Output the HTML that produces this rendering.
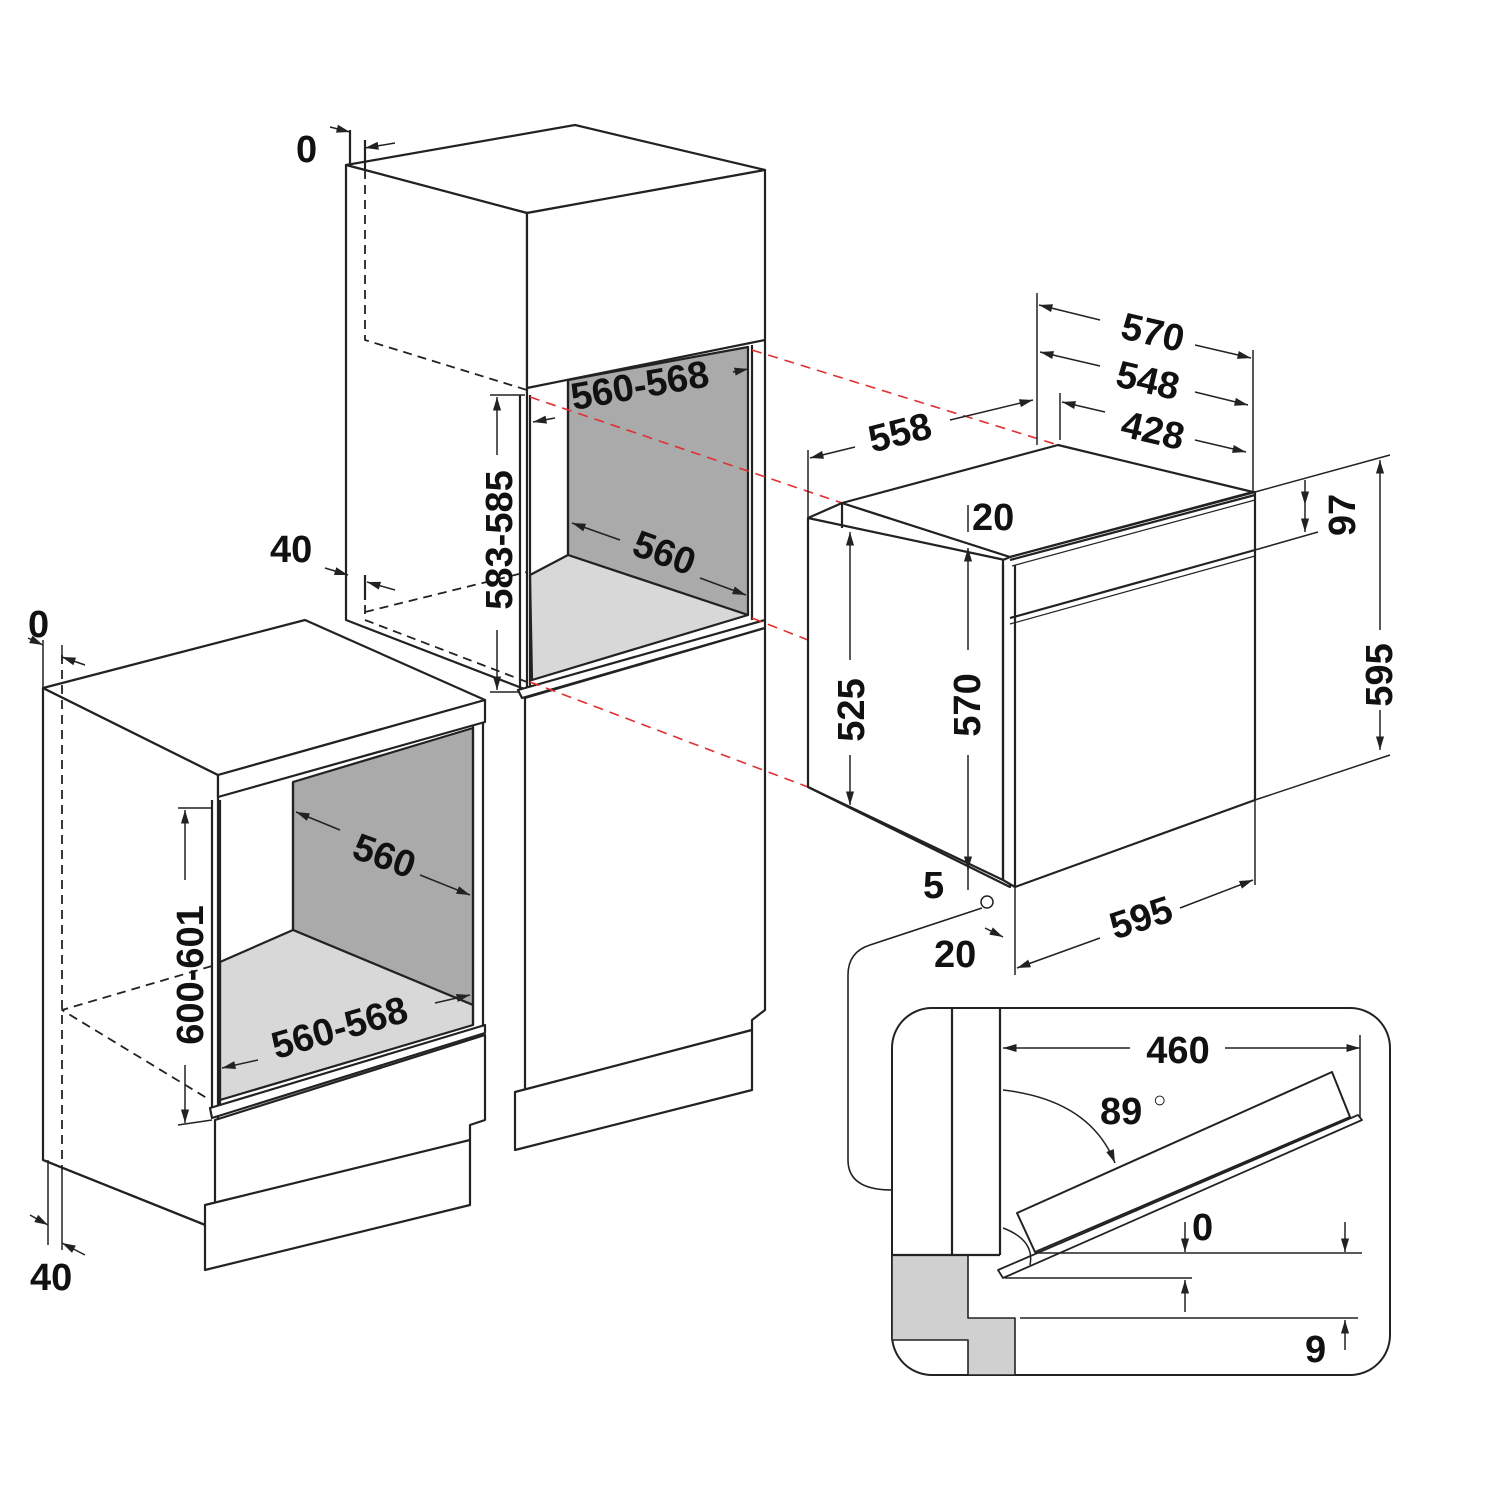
<!DOCTYPE html>
<html><head><meta charset="utf-8"><style>
html,body{margin:0;padding:0;background:#fff}
svg{display:block}
text{font-family:"Liberation Sans",sans-serif;font-weight:bold;fill:#111}
</style></head><body>
<svg width="1500" height="1500" viewBox="0 0 1500 1500" xmlns="http://www.w3.org/2000/svg">
<defs>
<marker id="a" viewBox="0 0 10 10" refX="10" refY="5" markerWidth="9" markerHeight="9" orient="auto-start-reverse"><path d="M0,2 L10,5 L0,8 z" fill="#222"/></marker>
</defs>
<g stroke="#222" stroke-width="2.2" fill="none" stroke-linejoin="round">
<!-- TALL CABINET -->
<polygon points="346,165 575,125 765,170 527,213" fill="#fff"/>
<polygon points="346,165 527,213 527,690 346,620" fill="#fff"/>
<polygon points="527,213 765,170 765,340 527,388" fill="#fff"/>
<polygon points="568,380 748,347 748,615 568,555" fill="#aaa"/>
<polygon points="530,575 568,555 748,615 532,680" fill="#d8d8d8"/>
<line x1="568" y1="380" x2="568" y2="555"/>
<line x1="520" y1="395" x2="520" y2="690"/>
<line x1="530" y1="395" x2="530" y2="690"/>
<line x1="752" y1="345" x2="752" y2="620"/>
<line x1="765" y1="340" x2="765" y2="620"/>
<polygon points="518,690 765,620 765,628 522,698" fill="#fff"/>
<polygon points="525,698 765,628 765,1010 752,1020 752,1030 525,1090" fill="#fff"/>
<polygon points="515,1092 752,1030 752,1090 515,1150" fill="#fff"/>
<g stroke-dasharray="9,6" stroke-width="1.8">
<polyline points="365,170 365,340 527,390"/>
<polyline points="365,612 527,572"/>
<polyline points="365,575 365,620 527,682"/>
</g>
<!-- tall dims -->
<line x1="350" y1="130" x2="350" y2="165"/><line x1="365" y1="140" x2="365" y2="170"/>
<line x1="330" y1="127" x2="350" y2="132" marker-end="url(#a)" stroke-width="1.5"/>
<line x1="395" y1="143" x2="365" y2="148" marker-end="url(#a)" stroke-width="1.5"/>
<line x1="325" y1="568" x2="348" y2="575" marker-end="url(#a)" stroke-width="1.5"/>
<line x1="395" y1="590" x2="367" y2="582" marker-end="url(#a)" stroke-width="1.5"/>
<line x1="365" y1="575" x2="365" y2="600"/>
<line x1="490" y1="395" x2="525" y2="395" stroke-width="1.5"/>
<line x1="490" y1="692" x2="520" y2="692" stroke-width="1.5"/>
<line x1="497" y1="455" x2="497" y2="397" marker-end="url(#a)" stroke-width="1.5"/>
<line x1="497" y1="630" x2="497" y2="690" marker-end="url(#a)" stroke-width="1.5"/>
<line x1="555" y1="418" x2="533" y2="422" marker-end="url(#a)" stroke-width="1.5"/>
<line x1="733" y1="372" x2="748" y2="369" marker-end="url(#a)" stroke-width="1.5"/>
<line x1="620" y1="540" x2="572" y2="523" marker-end="url(#a)" stroke-width="1.5"/>
<line x1="700" y1="578" x2="746" y2="595" marker-end="url(#a)" stroke-width="1.5"/>
<!-- RED lines -->
<g stroke="#e03030" stroke-dasharray="10,7" stroke-width="1.6">
<line x1="752" y1="350" x2="1058" y2="445"/>
<line x1="530" y1="397" x2="842" y2="503"/>
<line x1="752" y1="618" x2="808" y2="640"/>
<line x1="530" y1="682" x2="808" y2="787"/>
</g>
<!-- LEFT CABINET -->
<polygon points="43,688 218,775 218,1230 43,1160" fill="#fff"/>
<polygon points="43,688 305,620 485,700 218,775" fill="#fff"/>
<polygon points="218,775 485,700 485,722 218,797" fill="#fff"/>
<polygon points="293,782 473,728 473,1005 293,930" fill="#aaa"/>
<polygon points="220,962 293,930 473,1005 473,1025 220,1100" fill="#d8d8d8"/>
<line x1="293" y1="782" x2="293" y2="930"/>
<line x1="212" y1="800" x2="212" y2="1110"/>
<line x1="220" y1="800" x2="220" y2="1110"/>
<line x1="473" y1="726" x2="473" y2="1025"/>
<line x1="483" y1="722" x2="483" y2="1025"/>
<polygon points="210,1108 485,1025 485,1033 212,1118" fill="#fff"/>
<polygon points="215,1120 485,1035 485,1120 470,1125 470,1140 215,1210" fill="#fff"/>
<polygon points="205,1205 470,1140 470,1205 205,1270" fill="#fff"/>
<polyline points="43,1160 205,1225"/>
<g stroke-dasharray="9,6" stroke-width="1.8">
<line x1="62" y1="655" x2="62" y2="1170"/>
<polyline points="212,966 62,1010 210,1100"/>
</g>
<line x1="43" y1="640" x2="43" y2="688" stroke-width="1.5"/>
<line x1="62" y1="645" x2="62" y2="660" stroke-width="1.5"/>
<line x1="28" y1="638" x2="43" y2="645" marker-end="url(#a)" stroke-width="1.5"/>
<line x1="85" y1="665" x2="62" y2="657" marker-end="url(#a)" stroke-width="1.5"/>
<line x1="48" y1="1160" x2="48" y2="1245" stroke-width="1.5"/>
<line x1="62" y1="1170" x2="62" y2="1250" stroke-width="1.5"/>
<line x1="30" y1="1215" x2="48" y2="1225" marker-end="url(#a)" stroke-width="1.5"/>
<line x1="85" y1="1255" x2="62" y2="1243" marker-end="url(#a)" stroke-width="1.5"/>
<line x1="178" y1="808" x2="212" y2="808" stroke-width="1.5"/>
<line x1="178" y1="1125" x2="212" y2="1120" stroke-width="1.5"/>
<line x1="185" y1="880" x2="185" y2="810" marker-end="url(#a)" stroke-width="1.5"/>
<line x1="185" y1="1065" x2="185" y2="1123" marker-end="url(#a)" stroke-width="1.5"/>
<line x1="340" y1="830" x2="296" y2="812" marker-end="url(#a)" stroke-width="1.5"/>
<line x1="420" y1="875" x2="470" y2="895" marker-end="url(#a)" stroke-width="1.5"/>
<line x1="258" y1="1060" x2="222" y2="1068" marker-end="url(#a)" stroke-width="1.5"/>
<line x1="435" y1="1003" x2="470" y2="995" marker-end="url(#a)" stroke-width="1.5"/>
<!-- OVEN -->
<polygon points="808,518 842,503 1010,557 1010,887 808,787" fill="#fff"/>
<polygon points="842,503 1058,445 1253,492 1010,557" fill="#fff"/>
<line x1="808" y1="518" x2="1005" y2="560"/>
<line x1="842" y1="503" x2="842" y2="528"/>
<polygon points="1003,560 1010,557 1255,492 1255,800 1015,887 1003,880" fill="#fff"/>
<line x1="1015" y1="565" x2="1015" y2="887"/>
<line x1="1003" y1="565" x2="1003" y2="880"/>
<line x1="1010" y1="560" x2="1255" y2="495"/>
<line x1="1012" y1="566" x2="1255" y2="500" stroke-width="1.2"/>
<line x1="1010" y1="618" x2="1255" y2="550"/>
<line x1="1010" y1="624" x2="1255" y2="556" stroke-width="1.2"/>
<line x1="1003" y1="880" x2="808" y2="787"/>
<!-- oven dims -->
<g stroke-width="1.5">
<line x1="1255" y1="492" x2="1390" y2="455"/>
<line x1="1255" y1="800" x2="1390" y2="755"/>
<line x1="1255" y1="550" x2="1318" y2="532"/>
<line x1="1380" y1="630" x2="1380" y2="460" marker-end="url(#a)"/>
<line x1="1380" y1="710" x2="1380" y2="750" marker-end="url(#a)"/>
<line x1="1305" y1="505" x2="1305" y2="480" marker-start="url(#a)"/>
<line x1="1305" y1="505" x2="1305" y2="532" marker-end="url(#a)"/>
<line x1="1037" y1="293" x2="1037" y2="445"/>
<line x1="1253" y1="350" x2="1253" y2="492"/>
<line x1="1060" y1="393" x2="1060" y2="440"/>
<line x1="1100" y1="320" x2="1039" y2="305" marker-end="url(#a)"/>
<line x1="1195" y1="345" x2="1251" y2="358" marker-end="url(#a)"/>
<line x1="1100" y1="366" x2="1040" y2="352" marker-end="url(#a)"/>
<line x1="1195" y1="392" x2="1248" y2="405" marker-end="url(#a)"/>
<line x1="1105" y1="412" x2="1062" y2="402" marker-end="url(#a)"/>
<line x1="1195" y1="440" x2="1246" y2="452" marker-end="url(#a)"/>
<line x1="808" y1="450" x2="808" y2="518"/>
<line x1="855" y1="447" x2="810" y2="458" marker-end="url(#a)"/>
<line x1="950" y1="420" x2="1033" y2="400" marker-end="url(#a)"/>
<line x1="850" y1="660" x2="850" y2="532" marker-end="url(#a)"/>
<line x1="850" y1="755" x2="850" y2="805" marker-end="url(#a)"/>
<line x1="968" y1="650" x2="968" y2="548" marker-end="url(#a)"/>
<line x1="968" y1="755" x2="968" y2="870" marker-end="url(#a)"/>
<line x1="968" y1="505" x2="968" y2="532" stroke-width="1.5"/>
<line x1="968" y1="860" x2="968" y2="890"/>
<line x1="1015" y1="887" x2="1015" y2="975"/>
<line x1="1255" y1="800" x2="1255" y2="885"/>
<line x1="1100" y1="938" x2="1017" y2="968" marker-end="url(#a)"/>
<line x1="1180" y1="908" x2="1253" y2="880" marker-end="url(#a)"/>
<line x1="985" y1="928" x2="1003" y2="937" marker-end="url(#a)"/>
</g>
<circle cx="987" cy="902" r="6" fill="#fff" stroke-width="1.5"/>
<path d="M982,908 L870,945 Q848,952 848,975 L848,1160 Q848,1190 892,1190" stroke-width="1.6"/>
<!-- DETAIL BOX -->
<rect x="892" y="1008" width="498" height="367" rx="40" ry="40" stroke-width="2"/>
<path d="M892,1255 L968,1255 L968,1318 L1015,1318 L1015,1375 L968,1375 L968,1340 L892,1340 Z" fill="#d0d0d0" stroke-width="1.6"/>
<line x1="952" y1="1008" x2="952" y2="1255"/>
<line x1="1000" y1="1008" x2="1000" y2="1255"/>
<line x1="892" y1="1255" x2="1000" y2="1255"/>
<polygon points="1017,1213 1332,1072 1350,1117 1035,1252" fill="#fff" stroke-width="2"/>
<polygon points="998,1270 1358,1115 1362,1120 1003,1278" fill="#fff" stroke-width="1.8"/>
<path d="M1003,1228 Q1035,1240 1030,1265" stroke-width="1.5"/>
<g stroke-width="1.5">
<line x1="1130" y1="1048" x2="1003" y2="1048" marker-end="url(#a)"/>
<line x1="1225" y1="1048" x2="1360" y2="1048" marker-end="url(#a)"/>
<line x1="1360" y1="1035" x2="1360" y2="1118"/>
<path d="M1003,1090 Q1090,1100 1115,1163" marker-end="url(#a)"/>
<line x1="1035" y1="1253" x2="1362" y2="1253"/>
<line x1="1005" y1="1278" x2="1192" y2="1278"/>
<line x1="1020" y1="1318" x2="1358" y2="1318"/>
<line x1="1185" y1="1222" x2="1185" y2="1252" marker-end="url(#a)"/>
<line x1="1345" y1="1222" x2="1345" y2="1252" marker-end="url(#a)"/>
<line x1="1185" y1="1312" x2="1185" y2="1280" marker-end="url(#a)"/>
<line x1="1345" y1="1350" x2="1345" y2="1320" marker-end="url(#a)"/>
</g>
</g>
<!-- TEXT -->
<g font-size="38">
<text x="296" y="162">0</text>
<text x="270" y="562">40</text>
<text x="28" y="637">0</text>
<text x="30" y="1290">40</text>
<text transform="translate(642,398) rotate(-10)" text-anchor="middle">560-568</text>
<text transform="translate(660,565) rotate(20)" text-anchor="middle">560</text>
<text transform="translate(512,540) rotate(-90)" text-anchor="middle">583-585</text>
<text transform="translate(380,868) rotate(20)" text-anchor="middle">560</text>
<text transform="translate(343,1040) rotate(-16)" text-anchor="middle">560-568</text>
<text transform="translate(203,975) rotate(-90)" text-anchor="middle">600-601</text>
<text transform="translate(1150,345) rotate(13)" text-anchor="middle">570</text>
<text transform="translate(1145,393) rotate(13)" text-anchor="middle">548</text>
<text transform="translate(1150,443) rotate(13)" text-anchor="middle">428</text>
<text transform="translate(903,445) rotate(-14)" text-anchor="middle">558</text>
<text x="972" y="530">20</text>
<text transform="translate(1355,515) rotate(-90)" text-anchor="middle">97</text>
<text transform="translate(1392,675) rotate(-90)" text-anchor="middle">595</text>
<text transform="translate(864,710) rotate(-90)" text-anchor="middle">525</text>
<text transform="translate(980,705) rotate(-90)" text-anchor="middle">570</text>
<text x="923" y="898">5</text>
<text x="934" y="967">20</text>
<text transform="translate(1145,930) rotate(-18)" text-anchor="middle">595</text>
<text x="1178" y="1063" text-anchor="middle">460</text>
<text x="1100" y="1124">89</text>
<text x="1153" y="1107" font-size="22" font-weight="normal">○</text>
<text x="1192" y="1240">0</text>
<text x="1305" y="1362">9</text>
</g>
</svg>
</body></html>
